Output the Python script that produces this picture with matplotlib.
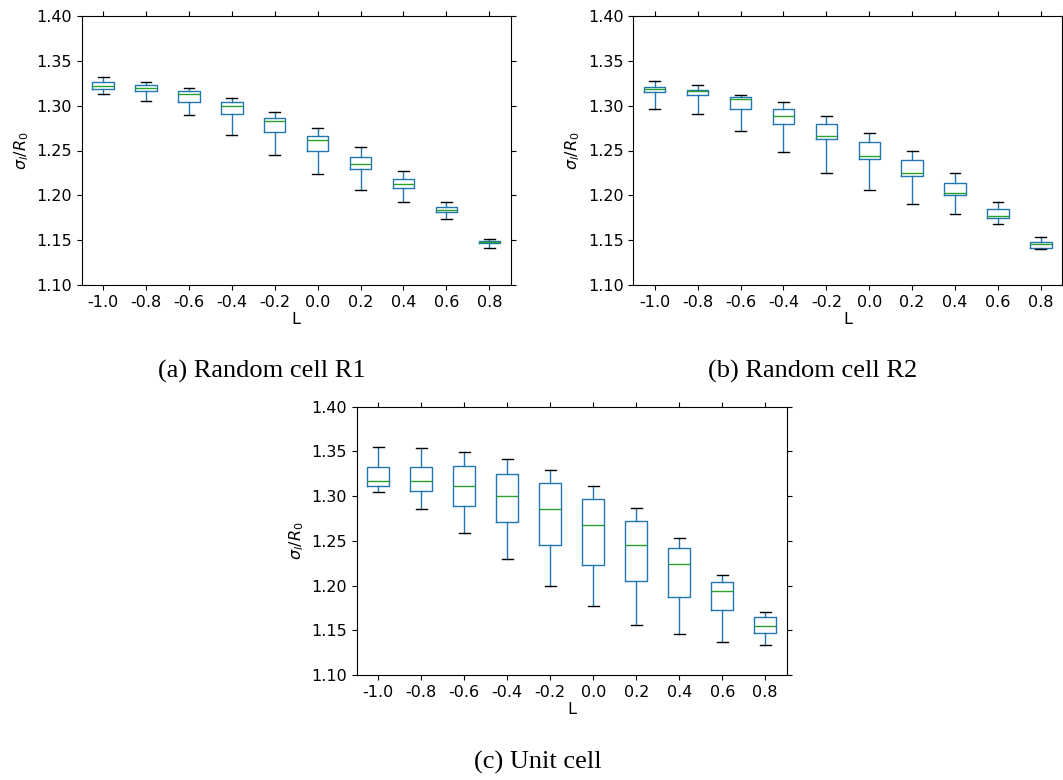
import numpy as np
import matplotlib
matplotlib.use("Agg")
from matplotlib import pyplot as plt

L_labels = ["-1.0", "-0.8", "-0.6", "-0.4", "-0.2", "0.0", "0.2", "0.4", "0.6", "0.8"]

# (a) Random cell R1
r1_whislo = [1.3134, 1.3056, 1.2896, 1.2675, 1.2451, 1.2235, 1.2060, 1.1925, 1.1731, 1.1418]
r1_q1     = [1.3187, 1.3160, 1.3037, 1.2907, 1.2701, 1.2500, 1.2291, 1.2078, 1.1813, 1.1466]
r1_med    = [1.3224, 1.3198, 1.3127, 1.2996, 1.2828, 1.2616, 1.2354, 1.2131, 1.1840, 1.1478]
r1_q3     = [1.3265, 1.3235, 1.3160, 1.3041, 1.2866, 1.2660, 1.2429, 1.2179, 1.1869, 1.1489]
r1_whishi = [1.3317, 1.3261, 1.3194, 1.3082, 1.2933, 1.2754, 1.2537, 1.2269, 1.1925, 1.1511]

# (b) Random cell R2
r2_whislo = [1.2959, 1.2910, 1.2720, 1.2485, 1.2250, 1.2063, 1.1903, 1.1791, 1.1675, 1.1399]
r2_q1     = [1.3149, 1.3116, 1.2959, 1.2795, 1.2623, 1.2407, 1.2220, 1.2000, 1.1743, 1.1418]
r2_med    = [1.3190, 1.3160, 1.3071, 1.2884, 1.2664, 1.2444, 1.2250, 1.2026, 1.1772, 1.1455]
r2_q3     = [1.3205, 1.3179, 1.3093, 1.2959, 1.2799, 1.2590, 1.2392, 1.2142, 1.1847, 1.1485]
r2_whishi = [1.3272, 1.3228, 1.3123, 1.3045, 1.2888, 1.2698, 1.2496, 1.2250, 1.1925, 1.1534]

# (c) Unit cell
uc_whislo = [1.3048, 1.2858, 1.2590, 1.2292, 1.1998, 1.1767, 1.1558, 1.1454, 1.1372, 1.1338]
uc_q1     = [1.3112, 1.3060, 1.2892, 1.2709, 1.2456, 1.2233, 1.2046, 1.1871, 1.1722, 1.1472]
uc_med    = [1.3168, 1.3171, 1.3108, 1.3007, 1.2851, 1.2676, 1.2456, 1.2240, 1.1938, 1.1543]
uc_q3     = [1.3324, 1.3328, 1.3339, 1.3242, 1.3142, 1.2963, 1.2717, 1.2415, 1.2042, 1.1648]
uc_whishi = [1.3544, 1.3533, 1.3496, 1.3414, 1.3291, 1.3108, 1.2862, 1.2527, 1.2121, 1.1703]

panels = [
    ("(a) Random cell R1", r1_whislo, r1_q1, r1_med, r1_q3, r1_whishi),
    ("(b) Random cell R2", r2_whislo, r2_q1, r2_med, r2_q3, r2_whishi),
    ("(c) Unit cell", uc_whislo, uc_q1, uc_med, uc_q3, uc_whishi),
]

W, H = 1063, 780
ax_rects = [
    (81.7 / W, (H - 285) / H, 429 / W, 269 / H),
    (633.3 / W, (H - 285) / H, 429 / W, 269 / H),
    (356.7 / W, (H - 675) / H, 430 / W, 268.3 / H),
]
caption_pos = [(262 / W, 1 - 371 / H), (813 / W, 1 - 371 / H), (538 / W, 1 - 762 / H)]

fig = plt.figure(figsize=(W / 100, H / 100), dpi=100)

for (title, wlo, q1, med, q3, whi), rect, cpos in zip(panels, ax_rects, caption_pos):
    ax = fig.add_axes(rect)
    stats = []
    for i in range(len(L_labels)):
        stats.append(dict(whislo=wlo[i], q1=q1[i], med=med[i], q3=q3[i],
                          whishi=whi[i], fliers=[], label=L_labels[i]))
    ax.bxp(stats, widths=0.5, showfliers=False,
           boxprops=dict(color="#1f77b4", lw=1),
           whiskerprops=dict(color="#1f77b4", lw=1),
           capprops=dict(color="k", lw=1),
           medianprops=dict(color="#2ca02c", lw=1))
    ax.set_xlim(0.5, 10.5)
    ax.set_ylim(1.10, 1.40)
    ax.set_yticks(np.arange(1.10, 1.401, 0.05))
    ax.set_yticklabels(["%.2f" % v for v in np.arange(1.10, 1.401, 0.05)])
    ax.tick_params(axis="both", labelsize=11.5, top=True, right=True, direction="out")
    ax.set_xlabel("L", fontsize=11.5, labelpad=2)
    ax.set_ylabel(r"$\sigma_l/R_0$", fontsize=11.5)
    fig.text(cpos[0], cpos[1], title, ha="center", va="center",
             fontsize=19, family="Liberation Serif")

fig.savefig("out.png", dpi=100)
